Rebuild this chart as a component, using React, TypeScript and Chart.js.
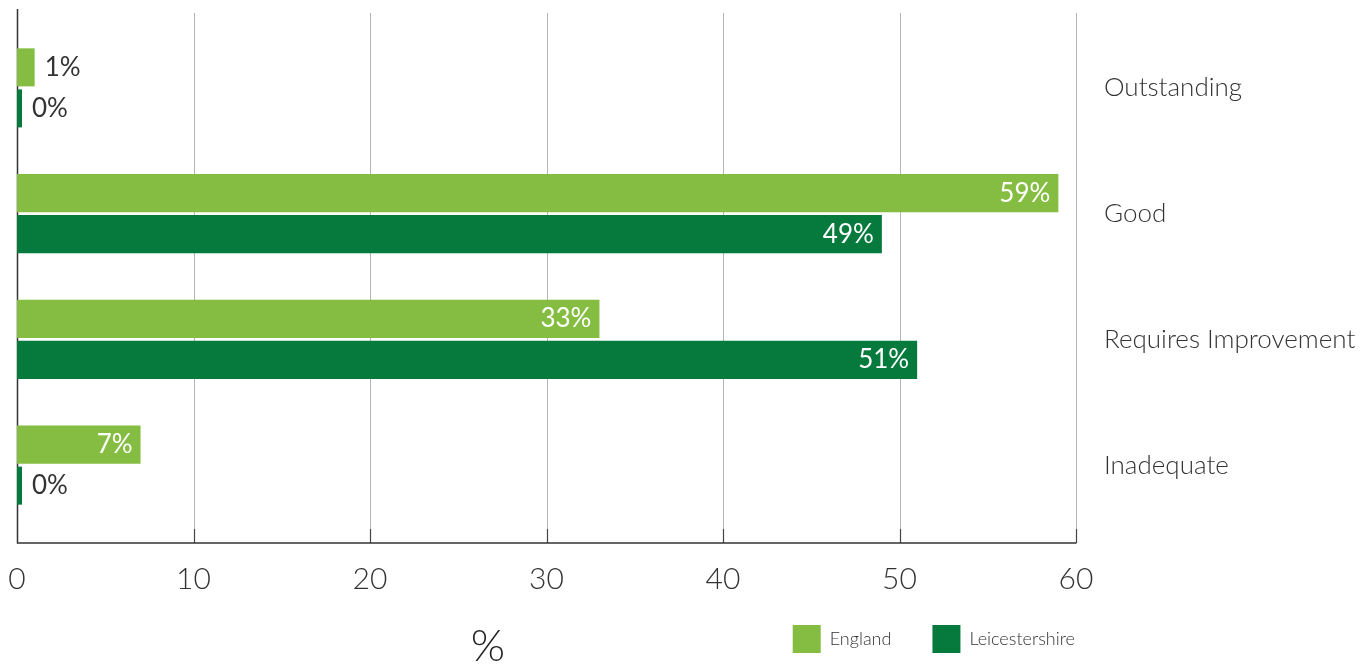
import React, { useEffect, useRef } from 'react';
import { Chart, registerables } from 'chart.js';

Chart.register(...registerables);

const categories = ['Outstanding', 'Good', 'Requires Improvement', 'Inadequate'];
const englandValues = [1, 59, 33, 7];
const leicestershireValues = [0, 49, 51, 0];
const xTickValues = [0, 10, 20, 30, 40, 50, 60];
const seriesNames = ['England', 'Leicestershire'];
const seriesColors = ['#84bd41', '#06793d'];
const axisTitle = '%';

const FONT = "Lato, 'Liberation Sans', sans-serif";
const TEXT = '#333333';

const gridPlugin = {
  id: 'customGrid',
  afterLayout(chart: any) {
    // let tick labels extend past their (narrow) axis boxes without being clipped
    chart.scales.y.right = chart.width;
    chart.scales.x.bottom = chart.height;
  },
  beforeDatasetsDraw(chart: any) {
    const { ctx, chartArea } = chart;
    const xs = chart.scales.x;
    const top = chartArea.top - 12;
    const bottom = chartArea.bottom + 15;
    ctx.save();
    xTickValues.forEach((v) => {
      const px = Math.round(xs.getPixelForValue(v)) + 0.5;
      if (v !== 0) {
        ctx.strokeStyle = '#b5b5b5';
        ctx.lineWidth = 1;
        ctx.beginPath();
        ctx.moveTo(px, top);
        ctx.lineTo(px, bottom);
        ctx.stroke();
        ctx.strokeStyle = '#444444';
        ctx.lineWidth = 1.2;
        ctx.beginPath();
        ctx.moveTo(px, bottom - 14);
        ctx.lineTo(px, bottom);
        ctx.stroke();
      }
    });
    const x0 = Math.round(xs.getPixelForValue(0)) + 0.5;
    const x1 = Math.round(xs.getPixelForValue(xTickValues[xTickValues.length - 1])) + 0.5;
    ctx.strokeStyle = '#333333';
    ctx.lineWidth = 1.5;
    ctx.beginPath();
    ctx.moveTo(x0, chartArea.top - 16);
    ctx.lineTo(x0, bottom);
    ctx.lineTo(x1, bottom);
    ctx.stroke();
    ctx.restore();
  },
};

const labelPlugin = {
  id: 'valueLabels',
  afterDatasetsDraw(chart: any) {
    const { ctx } = chart;
    ctx.save();
    ctx.font = `400 26px ${FONT}`;
    ctx.textBaseline = 'middle';
    chart.data.datasets.forEach((ds: any, di: number) => {
      const meta = chart.getDatasetMeta(di);
      meta.data.forEach((bar: any, i: number) => {
        const v = ds.data[i];
        const { x, y } = bar.getProps(['x', 'y'], true);
        const text = `${v}%`;
        if (v >= 5) {
          ctx.fillStyle = '#ffffff';
          ctx.textAlign = 'right';
          ctx.fillText(text, x - 8, y);
        } else {
          ctx.fillStyle = TEXT;
          ctx.textAlign = 'left';
          ctx.fillText(text, x + 10, y);
        }
      });
    });
    ctx.restore();
  },
};

const titlePlugin = {
  id: 'axisTitle',
  afterDraw(chart: any) {
    const { ctx } = chart;
    ctx.save();
    ctx.font = `300 44px ${FONT}`;
    ctx.fillStyle = '#222222';
    ctx.textAlign = 'center';
    ctx.textBaseline = 'middle';
    ctx.fillText(axisTitle, 488, 647);
    ctx.restore();
  },
};

export default function App() {
  const canvasRef = useRef<HTMLCanvasElement | null>(null);

  useEffect(() => {
    document.body.style.margin = '0';
    const canvas = canvasRef.current;
    if (!canvas) return;
    const chart = new Chart(canvas, {
      type: 'bar',
      data: {
        labels: categories,
        datasets: [
          {
            label: seriesNames[0],
            data: englandValues,
            backgroundColor: seriesColors[0],
            borderWidth: 0,
            minBarLength: 5,
            categoryPercentage: 0.6525,
            barPercentage: 0.927,
          },
          {
            label: seriesNames[1],
            data: leicestershireValues,
            backgroundColor: seriesColors[1],
            borderWidth: 0,
            minBarLength: 5,
            categoryPercentage: 0.6525,
            barPercentage: 0.927,
          },
        ],
      },
      options: {
        indexAxis: 'y',
        responsive: false,
        animation: false,
        devicePixelRatio: 1,
        layout: { padding: { left: 17, right: 250, top: 25, bottom: 3 } },
        scales: {
          x: {
            type: 'linear',
            position: 'bottom',
            min: 0,
            max: 60,
            grid: { display: false, drawTicks: false },
            border: { display: false },
            afterBuildTicks: (scale: any) => {
              scale.ticks = xTickValues.map((v) => ({ value: v }));
            },
            afterFit: (scale: any) => {
              scale.height = 56;
              scale.paddingLeft = 0;
              scale.paddingRight = 0;
            },
            ticks: {
              padding: 33,
              color: TEXT,
              font: { family: FONT, size: 30, weight: '300' },
              maxRotation: 0,
              autoSkip: false,
            },
          },
          y: {
            type: 'category',
            position: 'right',
            grid: { display: false, drawTicks: false },
            border: { display: false },
            afterFit: (scale: any) => {
              scale.width = 40;
              scale.paddingTop = 0;
              scale.paddingBottom = 0;
            },
            ticks: {
              padding: 28,
              color: TEXT,
              font: { family: FONT, size: 26, weight: '300' },
              autoSkip: false,
            },
          },
        },
        plugins: {
          legend: {
            display: true,
            position: 'bottom',
            align: 'end',
            labels: {
              boxWidth: 28,
              boxHeight: 28,
              padding: 41,
              color: TEXT,
              font: { family: FONT, size: 18, weight: '300' },
            },
          },
          tooltip: { enabled: false },
        },
      },
      plugins: [gridPlugin, labelPlugin, titlePlugin],
    });
    return () => {
      chart.destroy();
    };
  }, []);

  return (
    <div style={{ position: 'absolute', left: 0, top: 0, width: 1366, height: 666 }}>
      <canvas ref={canvasRef} width={1366} height={666} />
    </div>
  );
}
